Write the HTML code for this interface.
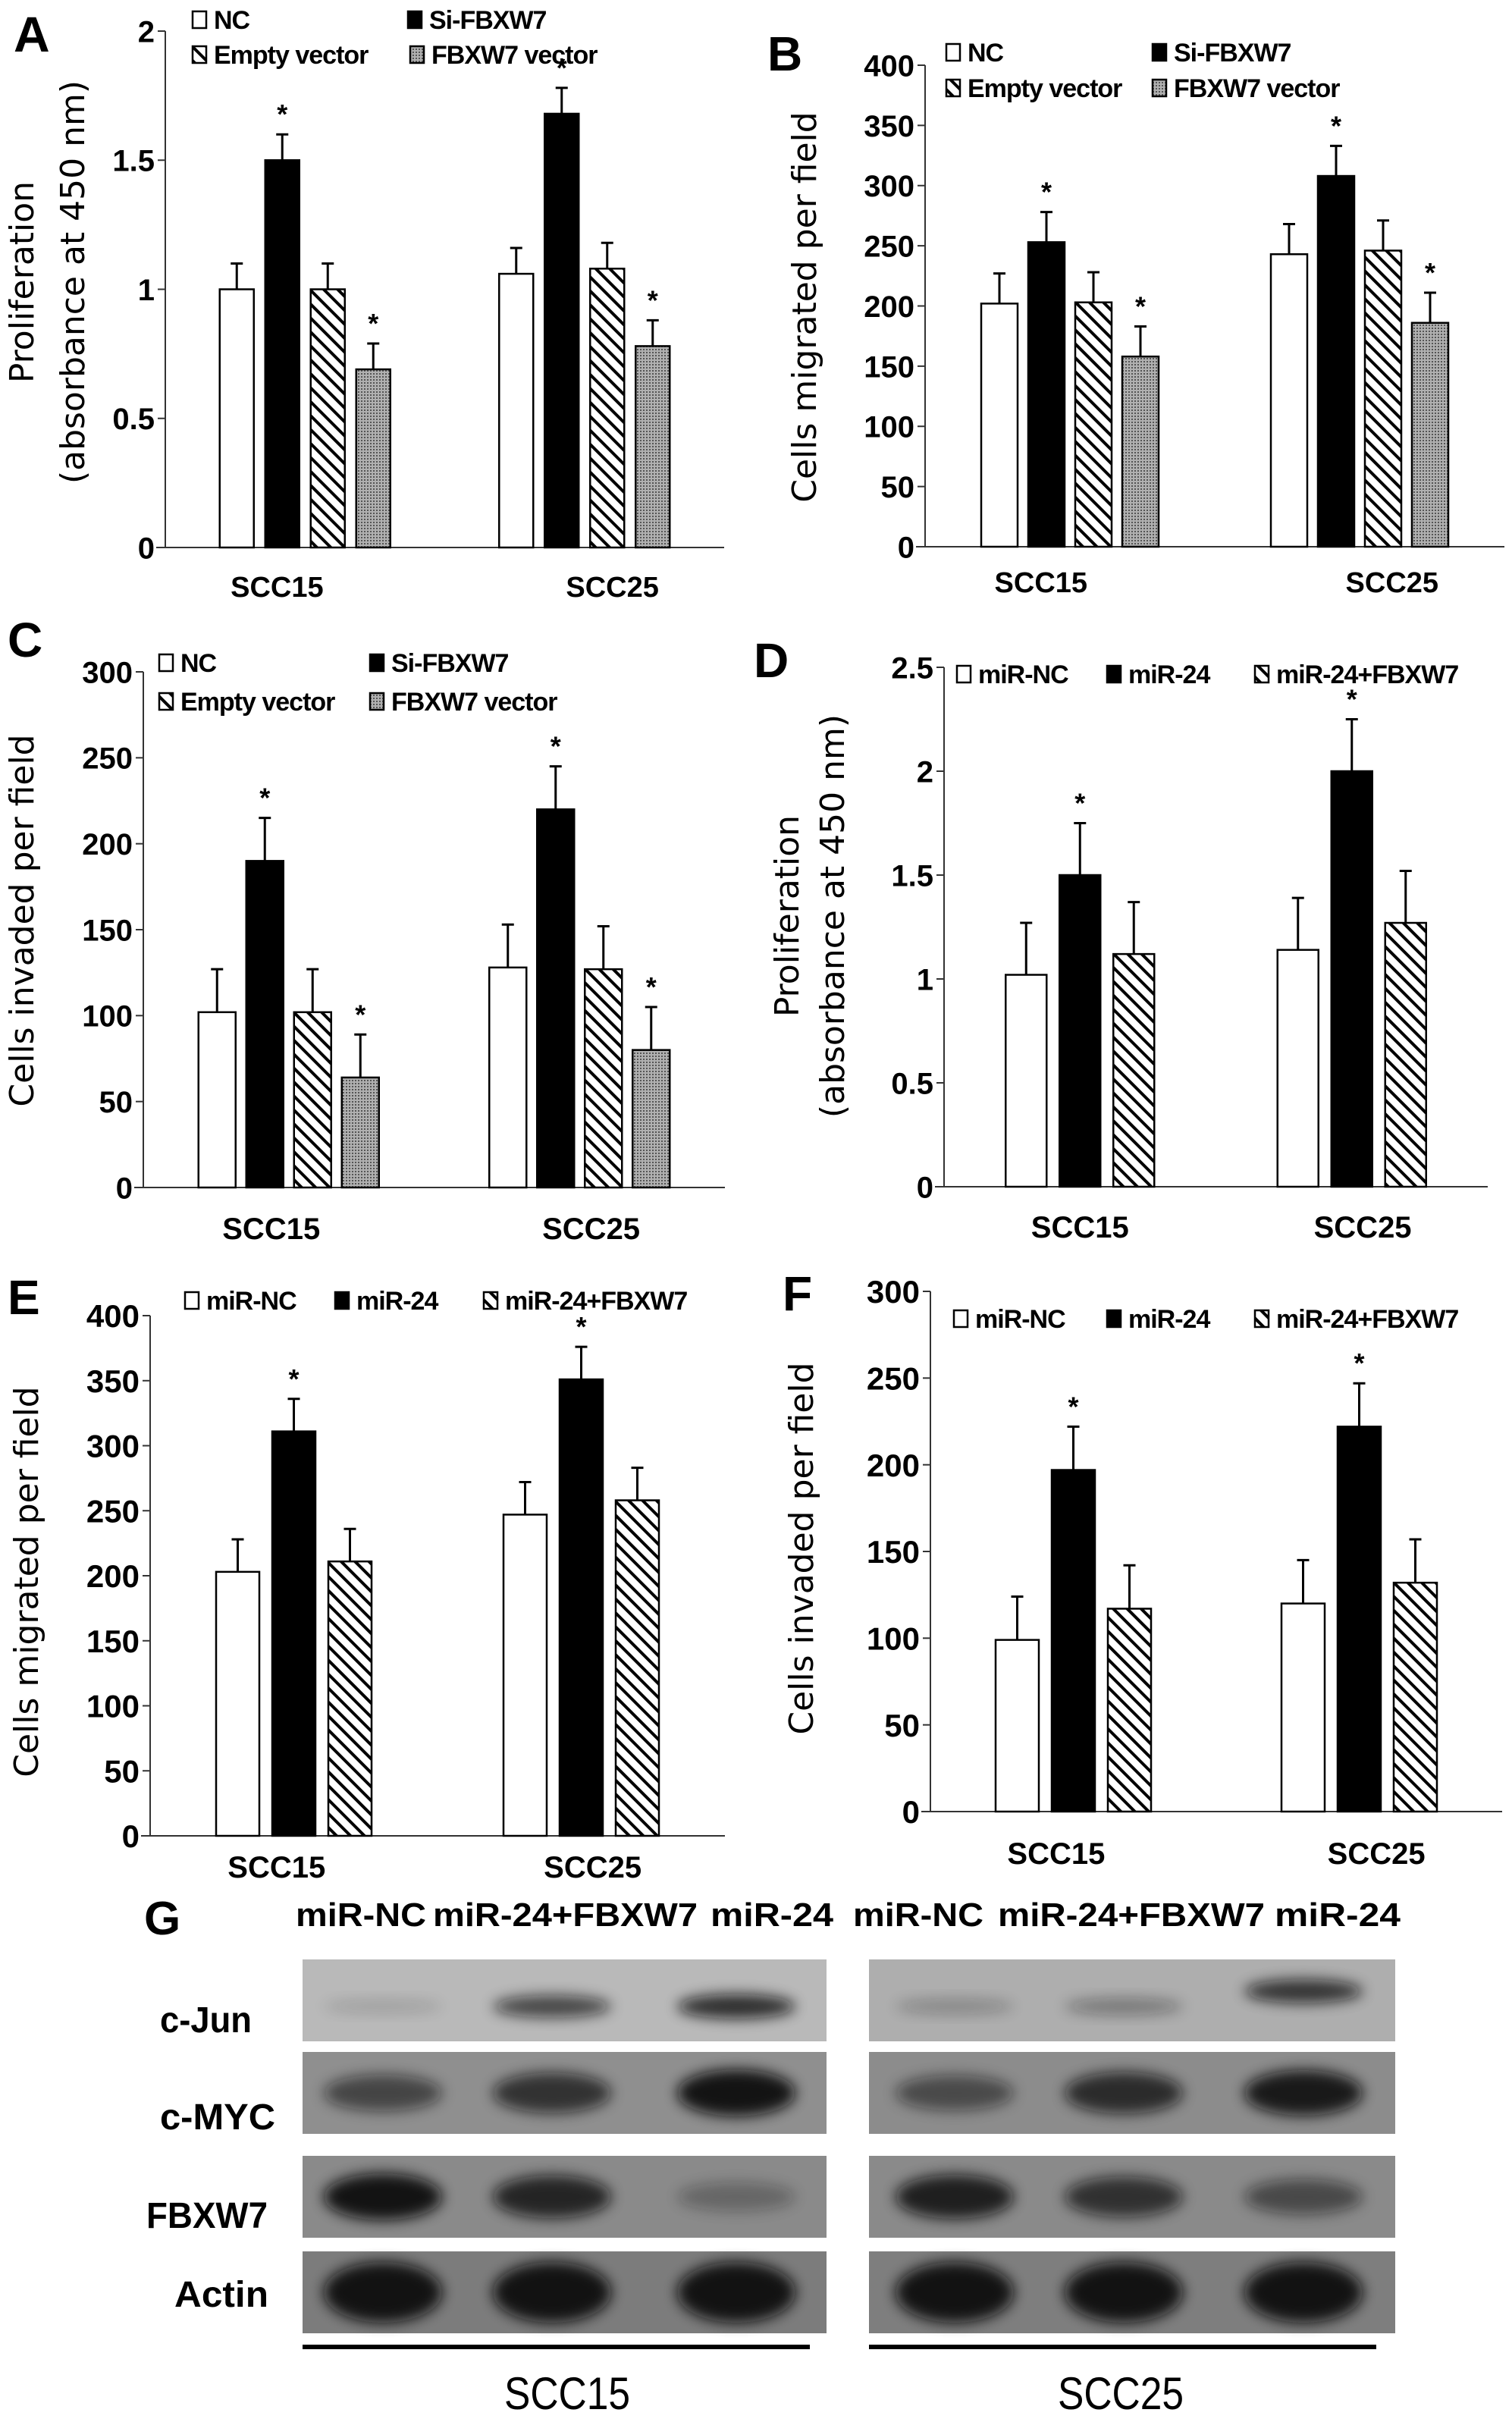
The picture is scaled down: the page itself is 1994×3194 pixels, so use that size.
<!DOCTYPE html>
<html><head><meta charset="utf-8"><style>
html,body{margin:0;padding:0;background:#fff}
svg text{font-family:"Liberation Sans Narrow","Liberation Sans",sans-serif;font-weight:bold}
</style></head><body>
<svg id="fig" xmlns="http://www.w3.org/2000/svg" width="1994" height="3189" viewBox="0 0 1994 3189">
<defs>
<pattern id="hatch" patternUnits="userSpaceOnUse" width="13" height="13" patternTransform="rotate(-45)"><rect width="13" height="13" fill="#fff"/><line x1="6" y1="0" x2="6" y2="13" stroke="#000" stroke-width="4"/></pattern>
<pattern id="dots" patternUnits="userSpaceOnUse" width="4" height="4"><rect width="4" height="4" fill="#b0b0b0"/><rect width="2" height="2" fill="#555"/></pattern>
<filter id="blur" x="-30%" y="-60%" width="160%" height="220%"><feGaussianBlur stdDeviation="9"/></filter>
</defs>
<g id="charts"></g>
<g id="blots"></g>
</svg>
<script>
// ---- data ----
const categories = ["SCC15","SCC25"];
const seriesABC = ["NC","Si-FBXW7","Empty vector","FBXW7 vector"];
const seriesDEF = ["miR-NC","miR-24","miR-24+FBXW7"];
const aValues = [[1.0,1.06],[1.5,1.68],[1.0,1.08],[0.69,0.78]];
const aErrors = [[0.1,0.1],[0.1,0.1],[0.1,0.1],[0.1,0.1]];
const bValues = [[202,243],[253,308],[203,246],[158,186]];
const bErrors = [[25,25],[25,25],[25,25],[25,25]];
const cValues = [[102,128],[190,220],[102,127],[64,80]];
const cErrors = [[25,25],[25,25],[25,25],[25,25]];
const dValues = [[1.02,1.14],[1.5,2.0],[1.12,1.27]];
const dErrors = [[0.25,0.25],[0.25,0.25],[0.25,0.25]];
const eValues = [[203,247],[311,351],[211,258]];
const eErrors = [[25,25],[25,25],[25,25]];
const fValues = [[99,120],[197,222],[117,132]];
const fErrors = [[25,25],[25,25],[25,25]];
const aSig = [[0,0],[1,1],[0,0],[1,1]];
const dSig = [[0,0],[1,1],[0,0]];
const ticksA = ["0","0.5","1","1.5","2"];
const ticksB = ["0","50","100","150","200","250","300","350","400"];
const ticksC = ["0","50","100","150","200","250","300"];
const ticksD = ["0","0.5","1","1.5","2","2.5"];
const ticksE = ["0","50","100","150","200","250","300","350","400"];
const ticksF = ["0","50","100","150","200","250","300"];

const NS="http://www.w3.org/2000/svg";
function mk(tag,attrs,parent,txt){const e=document.createElementNS(NS,tag);for(const k in attrs)e.setAttribute(k,attrs[k]);if(txt!==undefined)e.textContent=txt;parent.appendChild(e);return e;}
const fills4=["#fff","#000","url(#hatch)","url(#dots)"];
const fills3=["#fff","#000","url(#hatch)"];

function drawChart(c){
  const g=mk('g',{},document.getElementById('charts'));
  
  
  const max=parseFloat(c.ticks[c.ticks.length-1]);
  const y=v=>c.y0-(v/max)*(c.y0-c.yTop);
  const W=c.x1-c.x0;
  const gx=i=>c.x0+W*(0.25+0.5*i);
  const L=mk('text',{x:c.lx,y:c.ly,'font-size':c.lfs,'font-family':'Liberation Sans'},g,c.id);
  
  
  const ya=mk('line',{x1:c.x0,y1:c.yTop,x2:c.x0,y2:c.y0,stroke:'#333','stroke-width':2},g);
  
  const xa=mk('line',{x1:c.x0-12,y1:c.y0,x2:c.x1,y2:c.y0,stroke:'#333','stroke-width':2},g);
  
  c.ticks.forEach(t=>{
    const v=parseFloat(t);
    mk('line',{x1:c.x0-10,y1:y(v),x2:c.x0,y2:y(v),stroke:'#333','stroke-width':2},g);
    const tl=mk('text',{x:c.x0-14,y:y(v)+c.tfs*0.36,'text-anchor':'end','font-size':c.tfs},g,t);
    
  });
  c.title.forEach((line,i)=>{
    const tx=c.tx[i];
    const t=mk('text',{x:tx,y:c.ty,'text-anchor':'middle','font-size':c.tifs,'transform':`rotate(-90 ${tx} ${c.ty})`,'dominant-baseline':'middle'},g,line);
    t.setAttribute('style','font-weight:normal;font-family:"DejaVu Sans",sans-serif');
    
  });
  const n=c.values.length;
  c.values.forEach((ser,s)=>{
    ser.forEach((v,ci)=>{
      const cx=gx(ci)+(s-(n-1)/2)*c.step;
      const top=y(v);
      const r=mk('rect',{x:cx-c.bw/2,y:top,width:c.bw,height:c.y0-top,fill:c.fills[s],stroke:'#000','stroke-width':2.5},g);
      
      
      const et=y(v+c.errors[s][ci]);
      const eb=mk('path',{d:`M${cx} ${top}V${et}M${cx-8} ${et}H${cx+8}`,stroke:'#000','stroke-width':3,fill:'none'},g);
      
      if(c.sig[s][ci]){
        const a=mk('text',{x:cx,y:et-14,'text-anchor':'middle','font-size':36,'font-family':'Liberation Sans'},g,'*');
        
      }
    });
  });
  categories.forEach((cat,i)=>{
    const t=mk('text',{x:c.x0+W*c.cf[i],y:c.cy,'text-anchor':'middle','font-size':c.cfs},g,cat);
    
  });
  c.legend.forEach((p,s)=>{
    const lg=mk('g',{},g);
    
    mk('rect',{x:p[0],y:p[1]-c.lbox,width:c.lbox-4,height:c.lbox,fill:c.fills[s],stroke:'#000','stroke-width':2.5},lg);
    mk('text',{x:p[0]+c.lbox+6,y:p[1]+1,'font-size':c.lfs2,'letter-spacing':-1},lg,c.series[s]);
  });
}

drawChart({id:'A',x0:218,x1:955,yTop:41,y0:722,ticks:ticksA,values:aValues,errors:aErrors,sig:aSig,series:seriesABC,fills:fills4,
  bw:45,step:60,lx:18,ly:68,lfs:66,tfs:40,title:["Proliferation","(absorbance at 450 nm)"],tx:[32,99],ty:372,tifs:44,
  cf:[0.2,0.8],cy:787,cfs:38,legend:[[254,37],[538,37],[254,83],[541,83]],lbox:22,lfs2:34});
drawChart({id:'B',x0:1220,x1:1984,yTop:86,y0:721,ticks:ticksB,values:bValues,errors:bErrors,sig:aSig,series:seriesABC,fills:fills4,
  bw:48,step:62,lx:1012,ly:93,lfs:64,tfs:40,title:["Cells migrated per field"],tx:[1064],ty:405,tifs:44,
  cf:[0.2,0.806],cy:781,cfs:38,legend:[[1248,80],[1520,80],[1248,127],[1520,127]],lbox:22,lfs2:34});
drawChart({id:'C',x0:189,x1:956,yTop:886,y0:1566,ticks:ticksC,values:cValues,errors:cErrors,sig:aSig,series:seriesABC,fills:fills4,
  bw:49,step:63,lx:10,ly:866,lfs:64,tfs:40,title:["Cells invaded per field"],tx:[32],ty:1214,tifs:44,
  cf:[0.22,0.77],cy:1634,cfs:40,legend:[[210,885],[488,885],[210,936],[488,936]],lbox:22,lfs2:34});
drawChart({id:'D',x0:1245,x1:1962,yTop:880,y0:1565,ticks:ticksD,values:dValues,errors:dErrors,sig:dSig,series:seriesDEF,fills:fills3,
  bw:54,step:71,lx:994,ly:893,lfs:64,tfs:40,title:["Proliferation","(absorbance at 450 nm)"],tx:[1041,1101],ty:1208,tifs:44,
  cf:[0.25,0.77],cy:1632,cfs:40,legend:[[1262,900],[1460,900],[1655,900]],lbox:22,lfs2:34});
drawChart({id:'E',x0:198,x1:956,yTop:1735,y0:2421,ticks:ticksE,values:eValues,errors:eErrors,sig:dSig,series:seriesDEF,fills:fills3,
  bw:57,step:74,lx:10,ly:1733,lfs:64,tfs:42,title:["Cells migrated per field"],tx:[38],ty:2086,tifs:44,
  cf:[0.22,0.77],cy:2476,cfs:40,legend:[[244,1726],[442,1726],[638,1726]],lbox:22,lfs2:34});
drawChart({id:'F',x0:1227,x1:1981,yTop:1703,y0:2389,ticks:ticksF,values:fValues,errors:fErrors,sig:dSig,series:seriesDEF,fills:fills3,
  bw:57,step:74,lx:1032,ly:1728,lfs:64,tfs:42,title:["Cells invaded per field"],tx:[1060],ty:2042,tifs:44,
  cf:[0.22,0.78],cy:2458,cfs:40,legend:[[1258,1750],[1460,1750],[1655,1750]],lbox:22,lfs2:34});

// ---- western blot ----
const blotRows=["c-Jun","c-MYC","FBXW7","Actin"];
const laneLabels=["miR-NC","miR-24+FBXW7","miR-24"];
const bandLeft=[[0.15,0.7,0.85],[0.6,0.75,1.0],[1.0,0.85,0.3],[1.0,1.0,1.0]];
const bandRight=[[0.25,0.35,0.8],[0.55,0.8,0.95],[0.9,0.75,0.55],[1.0,1.0,1.0]];
(function(){
  const g=document.getElementById('blots');
  const t=mk('text',{x:190,y:2551,'font-size':62,'font-family':'Liberation Sans'},g,'G');
  
  const hdr=[[390,172],[571,349],[937,162],[1125,172],[1316,352],[1681,166]];
  hdr.forEach((h,i)=>{
    const e=mk('text',{x:h[0],y:2540,'font-size':44,textLength:h[1],lengthAdjust:'spacingAndGlyphs'},g,laneLabels[i%3]);
    
  });
  const rowY=[[2584,2692,2680,"#b9b9b9","#aeaeae"],[2706,2814,2808,"#8f8f8f","#8c8c8c"],[2843,2951,2938,"#8a8a8a","#8a8a8a"],[2969,3077,3042,"#7c7c7c","#7e7e7e"]];
  const labX=[211,211,193,230];const labW=[121,152,160,124];
  const laneL=[505,728,971],laneR=[1259,1482,1719];
  const jitterR=[8,8,-12];
  rowY.forEach((r,i)=>{
    const lab=mk('text',{x:labX[i],y:r[2],'font-size':48,textLength:labW[i],lengthAdjust:'spacingAndGlyphs'},g,blotRows[i]);
    
    [[399,1090,laneL,bandLeft,r[3],0],[1146,1840,laneR,bandRight,r[4],1]].forEach(b=>{
      const bg=mk('rect',{x:b[0],y:r[0],width:b[1]-b[0],height:r[1]-r[0],fill:b[4]},g);
      
      b[2].forEach((cx,l)=>{
        const v=b[3][i][l];
        const cy=(r[0]+r[1])/2+(i===0?(b[5]?jitterR[l]:8):0);
        const hh=i===3?40:(i===0?16:28)*(0.5+v*0.6);
        const e=mk('ellipse',{cx:cx,cy:cy,rx:78,ry:hh,fill:'#0a0a0a',opacity:Math.min(1,v*0.95),filter:'url(#blur)'},g);
        
      });
    });
  });
  mk('rect',{x:399,y:3092,width:669,height:6,fill:'#000'},g);
  mk('rect',{x:1146,y:3092,width:669,height:6,fill:'#000'},g);
  const s1=mk('text',{x:665,y:3177,'font-size':60,textLength:166,lengthAdjust:'spacingAndGlyphs',style:'font-weight:normal'},g,'SCC15');
  
  const s2=mk('text',{x:1395,y:3177,'font-size':60,textLength:166,lengthAdjust:'spacingAndGlyphs',style:'font-weight:normal'},g,'SCC25');
  
})();
</script>
</body></html>
